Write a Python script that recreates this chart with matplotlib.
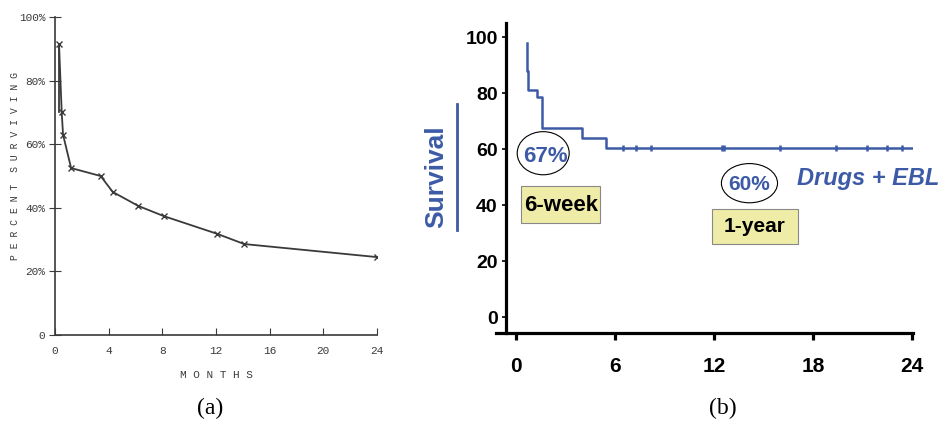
import numpy as np
import matplotlib.pyplot as plt
from matplotlib.patches import Ellipse

# panel (a): percent surviving vs months
a_months = [0.3, 0.5, 0.6, 1.2, 3.4, 4.3, 6.2, 8.1, 12.1, 14.1, 24.0]
a_surv = [91.5, 70, 63, 52.5, 50, 45, 40.6, 37.4, 31.8, 28.6, 24.5]
a_xticks = [0, 4, 8, 12, 16, 20, 24]
a_yticks = [0, 20, 40, 60, 80, 100]
a_ylabels = ['0', '20%', '40%', '60%', '80%', '100%']

# panel (b): Kaplan-Meier step curve
b_time = [0.65, 0.65, 0.7, 1.3, 1.6, 4.0, 5.45, 24.7]
b_surv = [98, 88, 81, 78.5, 67.5, 64, 60.3, 60.3]
b_cens = [6.5, 7.3, 8.2, 12.5, 12.6, 16.0, 19.4, 21.3, 22.5, 23.4, 24.6]
b_xticks = [0, 6, 12, 18, 24]
b_yticks = [0, 20, 40, 60, 80, 100]

W, H = 952, 424
fig = plt.figure(figsize=(W / 100, H / 100), dpi=100)

def box(l, r, top, bot):
    return [l / W, 1 - bot / H, (r - l) / W, (bot - top) / H]

grey = '#3a3a3a'
mono = 'Liberation Mono'

# ---------- (a) ----------
ax1 = fig.add_axes(box(55, 377, 17, 335))
ax1.plot(a_months, a_surv, color=grey, lw=1.3, marker='x', ms=5, mew=1.0)
ax1.plot([a_months[0], a_months[0]], [a_surv[0], a_surv[1]], color=grey, lw=1.3)
ax1.set_xlim(0, 24)
ax1.set_ylim(0, 100)
for s in ['top', 'right']:
    ax1.spines[s].set_visible(False)
for s in ['left', 'bottom']:
    ax1.spines[s].set_color(grey)
    ax1.spines[s].set_linewidth(1.2)
ax1.set_xticks(a_xticks)
ax1.set_xticklabels([str(t) for t in a_xticks], family=mono, fontsize=8, color=grey)
ax1.set_yticks(a_yticks)
ax1.set_yticklabels(a_ylabels, family=mono, fontsize=8, color=grey)
ax1.tick_params(axis='x', direction='in', length=5, color=grey, pad=8)
ax1.tick_params(axis='y', direction='inout', length=8, color=grey, pad=3)
ax1.set_xlabel('M O N T H S', family=mono, fontsize=8, color=grey, labelpad=10)
fig.text(15 / W, 1 - 166 / H, 'P E R C E N T  S U R V I V I N G', family=mono,
         fontsize=7, color=grey, rotation=90, ha='center', va='center')

# ---------- (b) ----------
ax2 = fig.add_axes(box(496, 913, 23, 333))
blue = '#3c5aa6'
ax2.step(b_time, b_surv, where='post', color=blue, lw=1.8)
ax2.plot(b_cens, [b_surv[-1]] * len(b_cens), ls='none', marker='|', ms=5,
         mew=1.8, color=blue)
ax2.set_xlim(-1.21, 24.06)
ax2.set_ylim(-5.7, 105)
for s in ['top', 'right']:
    ax2.spines[s].set_visible(False)
ax2.spines['left'].set_position(('data', -0.6))
for s in ['left', 'bottom']:
    ax2.spines[s].set_linewidth(2.3)
ax2.set_xticks(b_xticks)
ax2.set_xticklabels([str(t) for t in b_xticks], fontsize=15, fontweight='bold',
                    family='Liberation Sans')
ax2.set_yticks(b_yticks)
ax2.set_yticklabels([str(t) for t in b_yticks], fontsize=14, fontweight='bold',
                    family='Liberation Sans')
ax2.tick_params(axis='x', direction='out', length=5, width=2.3, pad=12)
ax2.tick_params(axis='y', direction='out', length=3, width=1.2, pad=3)

ax2.text(-4.85, 50, 'Survival', rotation=90, color=blue, fontsize=19,
         fontweight='bold', family='Liberation Sans', ha='center', va='center')
ax2.plot([-3.6, -3.6], [31, 76], color=blue, lw=2, clip_on=False)

ax2.add_patch(Ellipse((1.65, 58.5), 3.15, 15.4, fill=False, lw=0.8, color='black'))
ax2.text(1.8, 57.3, '67%', color=blue, fontsize=16, fontweight='bold',
         family='Liberation Sans', ha='center', va='center')
ax2.add_patch(Ellipse((14.15, 47.8), 3.4, 14, fill=False, lw=0.8, color='black'))
ax2.text(14.15, 47.2, '60%', color=blue, fontsize=15, fontweight='bold',
         family='Liberation Sans', ha='center', va='center')
ax2.text(17.05, 49.5, 'Drugs + EBL', color=blue, fontsize=17, fontweight='bold',
         fontstyle='italic', family='Liberation Sans', ha='left', va='center',
         clip_on=False)

bfc = '#efeca8'
ax2.add_patch(plt.Rectangle((0.3, 33.5), 4.8, 13.3, fc=bfc, ec='#888888', lw=0.8))
ax2.text(2.75, 40, '6-week', fontsize=16, fontweight='bold', family='Liberation Sans',
         ha='center', va='center')
ax2.add_patch(plt.Rectangle((11.9, 26.2), 5.2, 12.5, fc=bfc, ec='#888888', lw=0.8))
ax2.text(14.45, 32.3, '1-year', fontsize=15, fontweight='bold', family='Liberation Sans',
         ha='center', va='center')

fig.text(210 / W, 1 - 408 / H, '(a)', family='Liberation Serif', fontsize=17,
         ha='center', va='center')
fig.text(723 / W, 1 - 408 / H, '(b)', family='Liberation Serif', fontsize=17,
         ha='center', va='center')

fig.savefig('out.png', dpi=100)
